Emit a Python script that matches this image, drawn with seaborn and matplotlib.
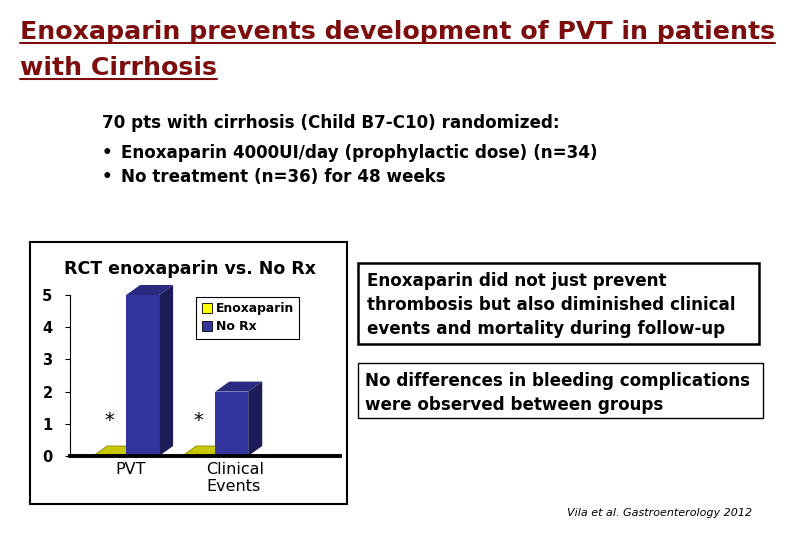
import numpy as np
import pandas as pd
import matplotlib
matplotlib.use('Agg')
import matplotlib.pyplot as plt
from matplotlib.patches import Polygon, Rectangle
from matplotlib.lines import Line2D
from matplotlib.transforms import ScaledTranslation
import seaborn as sns

# data
categories = ['PVT', 'Clinical\nEvents']
groups = ['Enoxaparin', 'No Rx']
enox_vals = [0, 0]
norx_vals = [5, 2]
yticks = [0, 1, 2, 3, 4, 5]

front_colors = {'Enoxaparin': '#c8c800', 'No Rx': '#34349e'}
top_colors = {'Enoxaparin': '#c8c800', 'No Rx': '#2a2a80'}
side_colors = {'Enoxaparin': '#8a8a00', 'No Rx': '#1c1c58'}
legend_colors = {'Enoxaparin': '#ffff00', 'No Rx': '#34349e'}

TITLE_RED = '#7d0c0c'

df = pd.DataFrame({
    'event': categories * 2,
    'group': [groups[0]] * len(categories) + [groups[1]] * len(categories),
    'value': enox_vals + norx_vals,
})

sns.set_style('white')
# the slide is stretched sideways, DejaVu's wider glyphs match it better
plt.rcParams['font.family'] = ['DejaVu Sans']
plt.rcParams['text.color'] = 'black'
plt.rcParams['xtick.color'] = 'black'
plt.rcParams['ytick.color'] = 'black'

W, H = 810, 540
fig = plt.figure(figsize=(8.1, 5.4), dpi=100)


def fx(px):
    return px / W


def fy(py):
    return 1 - py / H


# ---------------- slide text ----------------
t1 = fig.text(fx(20), fy(39), 'Enoxaparin prevents development of PVT in patients',
              color=TITLE_RED, fontsize=18.2, fontweight='bold', va='baseline')
t2 = fig.text(fx(20), fy(75), 'with Cirrhosis',
              color=TITLE_RED, fontsize=18.2, fontweight='bold', va='baseline')

BODY = 12.1
fig.text(fx(102), fy(128), '70 pts with cirrhosis (Child B7-C10) randomized:',
         fontsize=BODY, fontweight='bold', va='baseline')
for yy, line in [(158, 'Enoxaparin 4000UI/day (prophylactic dose) (n=34)'),
                 (182, 'No treatment (n=36) for 48 weeks')]:
    fig.text(fx(102), fy(yy), '\u2022', fontsize=BODY, fontweight='bold', va='baseline')
    fig.text(fx(121), fy(yy), line, fontsize=BODY, fontweight='bold', va='baseline')

# right-hand boxes
fig.add_artist(Rectangle((fx(358), fy(344)), fx(759) - fx(358), fy(263) - fy(344),
                         transform=fig.transFigure, fill=False, edgecolor='black', lw=1.8))
for yy, line in [(286, 'Enoxaparin did not just prevent'),
                 (310, 'thrombosis but also diminished clinical'),
                 (334, 'events and mortality during follow-up')]:
    fig.text(fx(367), fy(yy), line, fontsize=BODY, fontweight='bold', va='baseline')

fig.add_artist(Rectangle((fx(358), fy(418)), fx(763) - fx(358), fy(363) - fy(418),
                         transform=fig.transFigure, fill=False, edgecolor='black', lw=1.0))
for yy, line in [(386, 'No differences in bleeding complications'),
                 (410, 'were observed between groups')]:
    fig.text(fx(365), fy(yy), line, fontsize=BODY, fontweight='bold', va='baseline')

fig.text(fx(567), fy(516), 'Vila et al. Gastroenterology 2012',
         fontsize=8.0, fontstyle='italic', va='baseline')

# ---------------- chart frame ----------------
fig.add_artist(Rectangle((fx(30), fy(504)), fx(347) - fx(30), fy(242) - fy(504),
                         transform=fig.transFigure, fill=False, edgecolor='black', lw=1.5))
fig.text(fx(190), fy(269), 'RCT enoxaparin vs. No Rx', fontsize=12.5,
         fontweight='bold', ha='center', va='center')

ax = fig.add_axes([fx(70), fy(456), fx(340) - fx(70), fy(295) - fy(456)])
ax.set_facecolor('none')

sns.barplot(data=df, x='event', y='value', hue='group', hue_order=groups,
            order=categories, palette=front_colors, saturation=1, width=0.74,
            linewidth=0, ax=ax, legend=False)

ax.set_xlim(-0.63, 2.40)
ax.set_ylim(0, 5)
ax.set_xlabel('')
ax.set_ylabel('')

# pseudo-3D faces built from the drawn bars
ppx = ax.bbox.width / (ax.get_xlim()[1] - ax.get_xlim()[0])
ppy = ax.bbox.height / (ax.get_ylim()[1] - ax.get_ylim()[0])
dx, dy = 14 / ppx, 10 / ppy
for g, cont in zip(groups, ax.containers):
    for bar in cont:
        x0, w, h = bar.get_x(), bar.get_width(), bar.get_height()
        z = 2 if g == 'Enoxaparin' else 3
        bar.set_zorder(z + 0.5)
        bar.set_clip_on(False)
        top = Polygon([(x0, h), (x0 + w, h), (x0 + w + dx, h + dy), (x0 + dx, h + dy)],
                      closed=True, facecolor=top_colors[g],
                      edgecolor=side_colors[g] if h == 0 else 'none',
                      lw=0.6, zorder=z, clip_on=False)
        side = Polygon([(x0 + w, 0), (x0 + w + dx, dy), (x0 + w + dx, h + dy), (x0 + w, h)],
                       closed=True, facecolor=side_colors[g], edgecolor='none',
                       zorder=z, clip_on=False)
        ax.add_patch(top)
        ax.add_patch(side)
        if g == 'Enoxaparin':
            ax.text(x0 + w / 2, 1.1, '*', ha='center', va='center',
                    fontsize=14, zorder=5)

ax.set_yticks(yticks)
ax.tick_params(axis='y', left=True, length=3.6, width=0.8, pad=9, labelsize=10.5)
for lab in ax.get_yticklabels():
    lab.set_fontweight('bold')
ax.tick_params(axis='x', bottom=False, length=0, pad=4, labelsize=11.5)
offsets = [4, 20]
for lab, off in zip(ax.get_xticklabels(), offsets):
    lab.set_multialignment('left')
    lab.set_transform(lab.get_transform() + ScaledTranslation(off / 100, 0, fig.dpi_scale_trans))

sns.despine(ax=ax, top=True, right=True)
ax.spines['left'].set_linewidth(0.8)
ax.spines['left'].set_color('black')
ax.spines['bottom'].set_linewidth(2.8)
ax.spines['bottom'].set_color('black')
ax.spines['bottom'].set_zorder(4)

# legend
handles = [Rectangle((0, 0), 1, 1, facecolor=legend_colors[g], edgecolor='black', lw=0.6)
           for g in groups]
leg = ax.legend(handles, groups, loc='upper left', bbox_to_anchor=(0.468, 0.988),
                frameon=True, fancybox=False, edgecolor='black', framealpha=1,
                prop={'size': 8.9, 'weight': 'bold'}, handlelength=0.8, handleheight=0.8,
                handletextpad=0.3, borderpad=0.45, labelspacing=0.4, borderaxespad=0)
leg.get_frame().set_linewidth(0.8)
leg.set_zorder(6)

# underline for the slide title
fig.canvas.draw()
rend = fig.canvas.get_renderer()
for t in (t1, t2):
    bb = t.get_window_extent(renderer=rend)
    y_base = t.get_position()[1] * H
    yl = (y_base - 4) / H
    fig.add_artist(Line2D([bb.x0 / W, bb.x1 / W], [yl, yl], transform=fig.transFigure,
                          color=TITLE_RED, lw=1.5))

fig.savefig('out.png', dpi=100)
